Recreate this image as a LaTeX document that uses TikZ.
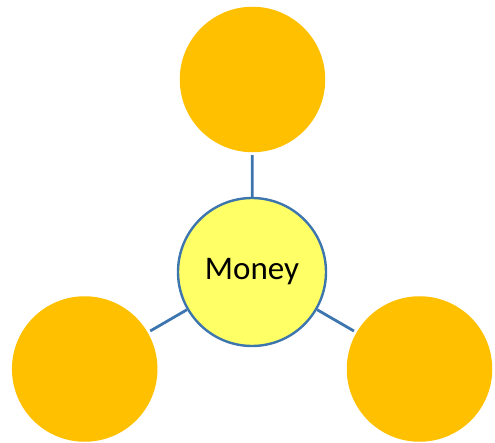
\documentclass[tikz,border=0pt]{standalone}
\usepackage{xcolor}
\usepackage{fontspec}
\setmainfont{Carlito}
\usepackage{tikz}
\usetikzlibrary{positioning,shapes}

\definecolor{coinorange}{HTML}{FFC000}
\definecolor{hubyellow}{HTML}{FFFF66}
\definecolor{linkblue}{HTML}{3D75AE}

\begin{document}
\begin{tikzpicture}[x=1pt, y=-1pt, auto,
        hub/.style={draw=linkblue, line width=2.4pt, circle, fill=hubyellow, minimum size=148pt, inner sep=0pt, font=\fontsize{33}{38}\selectfont},
        leaf/.style={circle, fill=coinorange, minimum size=145.5pt, inner sep=0pt, outer sep=3pt},
        link/.style={draw=linkblue, line width=2.8pt}]
            \useasboundingbox (0,0) rectangle (495,443);
            \node[hub] (money) at (252,272) {Money};
            \node[leaf] (top) at (252.5,79.5) {};
            \node[leaf] (left) at (84.7,369) {};
            \node[leaf] (right) at (419.5,369) {};
            
            \draw[link] (money) -- (top);
            \draw[link] (money) -- (left);
            \draw[link] (money) -- (right);
        \end{tikzpicture}
\end{document}
